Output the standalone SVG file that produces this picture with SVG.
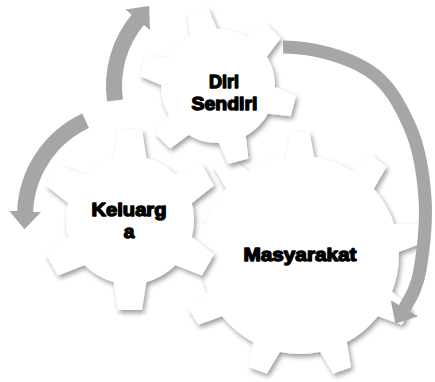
<svg xmlns="http://www.w3.org/2000/svg" width="435" height="382" viewBox="0 0 435 382">
<defs>
<style>
.gear{fill:#ffffff}
.lbl{font-family:"Liberation Sans",Arial,sans-serif;font-weight:bold;font-size:19px;fill:#000;stroke:#000;stroke-width:1.4;stroke-linejoin:round;text-anchor:middle}
.arrow{fill:none;stroke:#A6A6A6;marker-end:url(#head)}
</style>
<filter id="shadow" x="-20%" y="-20%" width="140%" height="140%">
<feGaussianBlur in="SourceAlpha" stdDeviation="2.5"/>
<feOffset dx="2" dy="3"/>
<feComponentTransfer><feFuncA type="linear" slope="0.4"/></feComponentTransfer>
<feMerge><feMergeNode/><feMergeNode in="SourceGraphic"/></feMerge>
</filter>
<path id="t9" d="M-14.5,-96 L14.5,-96 L9.5,-123 L-9.5,-123 Z"/>
<path id="t6a" d="M-16.5,-61 L16.5,-61 L12,-90 L-12,-90 Z"/>
<path id="t6b" d="M-14,-54 L14,-54 L10.5,-78 L-10.5,-78 Z"/>
<marker id="head" markerUnits="userSpaceOnUse" markerWidth="20" markerHeight="32" refX="1" refY="16" orient="auto">
<path d="M0,0 L18,16 L0,32 Z" fill="#A6A6A6"/>
</marker>
</defs>

<g id="masyarakat">
<g filter="url(#shadow)" transform="translate(300,255)">
<circle r="99" class="gear"/>
<use href="#t9" class="gear"/>
<use href="#t9" class="gear" transform="rotate(40)"/>
<use href="#t9" class="gear" transform="rotate(80)"/>
<use href="#t9" class="gear" transform="rotate(120)"/>
<use href="#t9" class="gear" transform="rotate(160)"/>
<use href="#t9" class="gear" transform="rotate(200)"/>
<use href="#t9" class="gear" transform="rotate(240)"/>
<use href="#t9" class="gear" transform="rotate(280)"/>
<use href="#t9" class="gear" transform="rotate(320)"/>
</g>
<text class="lbl" x="300" y="261" textLength="113" lengthAdjust="spacingAndGlyphs">Masyarakat</text>
</g>

<g id="keluarga">
<g filter="url(#shadow)" transform="translate(130,220)">
<circle r="64" class="gear"/>
<use href="#t6a" class="gear"/>
<use href="#t6a" class="gear" transform="rotate(60)"/>
<use href="#t6a" class="gear" transform="rotate(120)"/>
<use href="#t6a" class="gear" transform="rotate(180)"/>
<use href="#t6a" class="gear" transform="rotate(240)"/>
<use href="#t6a" class="gear" transform="rotate(300)"/>
</g>
<text class="lbl" x="129" y="216" textLength="75" lengthAdjust="spacingAndGlyphs">Keluarg</text>
<text class="lbl" x="129" y="238">a</text>
</g>

<g id="diri-sendiri">
<g filter="url(#shadow)" transform="translate(218,86)">
<circle r="57" class="gear"/>
<use href="#t6b" class="gear" transform="rotate(-15)"/>
<use href="#t6b" class="gear" transform="rotate(45)"/>
<use href="#t6b" class="gear" transform="rotate(105)"/>
<use href="#t6b" class="gear" transform="rotate(165)"/>
<use href="#t6b" class="gear" transform="rotate(225)"/>
<use href="#t6b" class="gear" transform="rotate(285)"/>
</g>
<text class="lbl" x="224" y="88" textLength="30" lengthAdjust="spacingAndGlyphs">Diri</text>
<text class="lbl" x="224.5" y="110" textLength="66" lengthAdjust="spacingAndGlyphs">Sendiri</text>
</g>

<g id="connectors">
<path class="arrow" stroke-width="16" d="M115,100.5 A104,104 0 0 1 138.3,19.1"/>
<path class="arrow" stroke-width="16" d="M85.6,120.8 A105,105 0 0 0 25.1,212.3"/>
<path class="arrow" stroke-width="13" d="M283,47 C313,47 346.8,56.7 368,70 C389.2,83.3 400.5,105.7 410,127 C419.5,148.3 423.3,174.2 425,198 C426.7,221.8 422.8,253 420,270 C417.2,287 411,297 404,309"/>
</g>
</svg>
